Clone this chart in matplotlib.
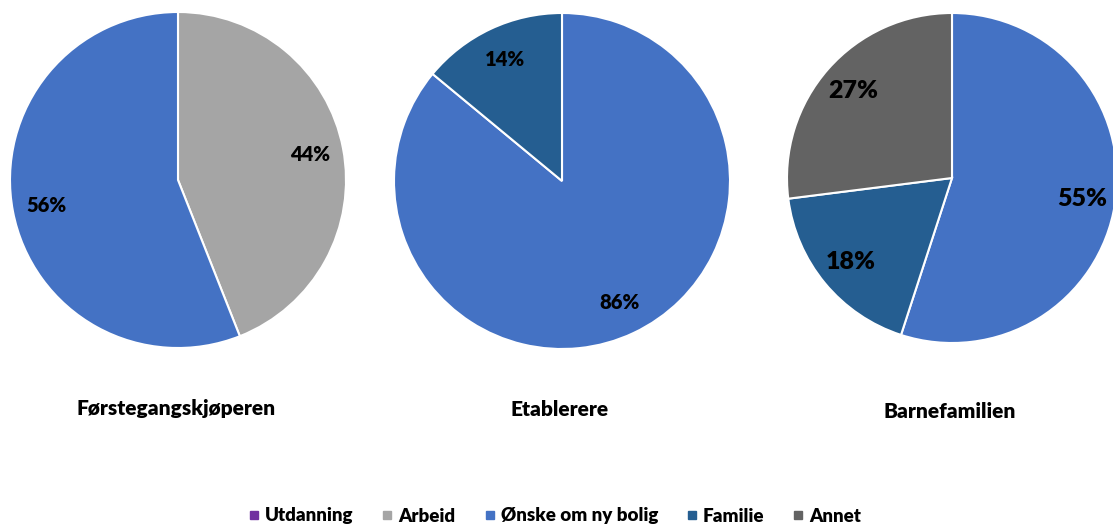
import matplotlib.pyplot as plt
from matplotlib.lines import Line2D

# Kategorier og farger
kategorier = ['Utdanning', 'Arbeid', 'Ønske om ny bolig', 'Familie', 'Annet']
farger = ['#7030A0', '#A5A5A5', '#4472C4', '#255E91', '#636363']

# Andeler (prosent) per gruppe, i kategorirekkefølge
forstegang = [0, 44, 56, 0, 0]
etablerere = [0, 0, 86, 14, 0]
barnefamilien = [0, 0, 55, 18, 27]

titler = ['Førstegangskjøperen', 'Etablerere', 'Barnefamilien']
grupper = [forstegang, etablerere, barnefamilien]

plt.rcParams['font.family'] = ['Lato', 'DejaVu Sans']

fig = plt.figure(figsize=(11.13, 5.28), dpi=100)
ax = fig.add_axes([0, 0, 1, 1])

sentre = [(178, 348), (562, 347), (952, 350)]
radier = [168, 168, 165]
tittel_y = [119, 119, 117]
pct_size = [14.5, 14.5, 18]

for verdier, tittel, c, r, ty, fs in zip(grupper, titler, sentre, radier, tittel_y, pct_size):
    vals = [v for v in verdier if v > 0]
    cols = [f for v, f in zip(verdier, farger) if v > 0]
    ax.pie(vals, colors=cols, startangle=90, counterclock=False,
           center=c, radius=r, autopct='%d%%', pctdistance=0.8,
           wedgeprops=dict(edgecolor='white', linewidth=1.5),
           textprops=dict(fontsize=fs, fontweight='heavy', color='black'),
           frame=True)
    ax.text(c[0] - 2, ty, tittel, ha='center', va='center', fontsize=15,
            fontweight='heavy')

ax.set_xlim(0, 1113)
ax.set_ylim(0, 528)
ax.set_aspect('equal')
ax.axis('off')

handles = [Line2D([], [], marker='s', linestyle='none', color=f, markersize=6)
           for f in farger]
fig.legend(handles, kategorier, loc='center', bbox_to_anchor=(553 / 1113, 1 - 516 / 528),
           ncol=5, frameon=False, handletextpad=0.1, columnspacing=1.3,
           handlelength=1.0, prop=dict(size=13.5, weight='heavy'))

fig.savefig('out.png', dpi=100)
